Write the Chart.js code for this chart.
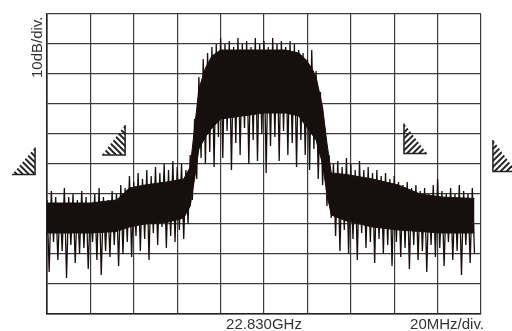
<!DOCTYPE html>
<html>
<head>
<meta charset="utf-8">
<script src="https://cdn.jsdelivr.net/npm/chart.js@4"></script>
<style>
  html, body { margin: 0; padding: 0; background: #fff; }
  #wrap { width: 512px; height: 331px; }
</style>
</head>
<body>
<div id="wrap"><canvas id="spectrum"></canvas></div>
<script>
// sweep: offset from centre in MHz, 1 MHz per sample
const sweepStart = -100;
const sweepStep = 1;

// trace level (dB) per sample, alternating peak / dip
const trace = [
  -62, -86, -59, -76, -61, -82, -63, -79, -58, -88,
  -61, -77, -60, -83, -62, -80, -59, -78, -61, -85,
  -63, -76, -60, -82, -58, -87, -61, -79, -62, -81,
  -59, -77, -60, -84,
  -57, -80, -58, -76, -54, -81, -56, -74, -53, -79,
  -55, -75, -52, -82, -54, -73, -51, -77, -53, -71,
  -50, -78, -52, -74, -49, -76, -51, -72, -50, -75,
  -52, -70,
  -47, -62, -35, -55, -21, -48, -15, -50,
  -13, -46, -11, -51, -10, -41, -8, -48, -10, -39,
  -9, -52, -11, -43, -8, -47, -10, -38, -9, -50,
  -11, -42, -8, -49, -10, -40, -9, -53, -11, -44,
  -8, -41, -10, -49, -9, -39, -11, -47, -9, -43,
  -10, -51, -12, -42,
  -13, -47, -15, -52, -12, -45, -19, -55, -26, -57,
  -38, -64, -47, -68,
  -50, -74, -49, -79, -51, -72, -48, -80, -50, -75,
  -52, -82, -49, -73, -52, -78, -51, -76, -53, -83,
  -52, -75, -54, -80, -53, -77, -55, -84, -54, -76,
  -56, -81, -57, -78, -56, -85, -58, -77, -57, -82,
  -59, -79, -58, -86, -60, -77, -57, -81, -55, -78,
  -59, -84, -60, -76, -58, -82, -60, -79, -57, -87,
  -59, -77, -60, -83, -58, -80
];

// solid band of the trace: top and bottom edge (dB) at these offsets (MHz)
const bandFreq = [-100, -80, -68, -62, -55, -45, -37, -34, -32, -30, -27, -24, -20, -10, 0, 10, 16, 19, 22, 24, 27, 29, 31, 38, 50, 62, 72, 82, 97];
const bandTop = [-63, -63, -62, -58, -57, -56, -55, -51, -38, -25, -18, -14, -12, -12, -12, -12, -13, -15, -18, -21, -31, -43, -53, -53.5, -55, -57, -60, -61, -61.5];
const bandBottom = [-73, -73, -72.5, -71, -70, -69.5, -68, -64, -55, -45, -41, -38, -35, -34, -33, -33, -34, -37, -40, -42, -50, -60, -67, -69, -71, -72, -72.5, -73, -73];

// screen scale
const freqMin = -100, freqMax = 100, freqDiv = 20;
const levelMin = -100, levelMax = 0, levelDiv = 10;

const centreLabel = '22.830GHz';
const spanLabel = '20MHz/div.';
const refLabel = '10dB/div.';

// hatched threshold marks: [offset MHz, top dB, bottom dB, which way they face]
const marks = [
  [-105.5, -44.5, -53.5, 'left'],
  [-64, -37, -47, 'left'],
  [64.5, -36.5, -46.5, 'right'],
  [105.5, -42, -52.5, 'right']
];

const tracePoints = trace.map((v, i) => ({ x: sweepStart + i * sweepStep, y: v }));
const topPoints = bandFreq.map((f, i) => ({ x: f, y: bandTop[i] }));
const bottomPoints = bandFreq.map((f, i) => ({ x: f, y: bandBottom[i] }));

const ink = '#170e0e';
const gridInk = '#3c3c3c';
const labelFont = '15px "Liberation Sans", Arial, sans-serif';

const screenLabels = {
  id: 'screenLabels',
  afterDraw(chart) {
    const { ctx, chartArea, scales } = chart;
    ctx.save();
    ctx.fillStyle = '#333';
    ctx.font = labelFont;
    ctx.textBaseline = 'alphabetic';
    ctx.textAlign = 'center';
    ctx.fillText(centreLabel, scales.x.getPixelForValue(0), chartArea.bottom + 15);
    ctx.textAlign = 'right';
    ctx.fillText(spanLabel, chartArea.right + 3, chartArea.bottom + 15);
    ctx.translate(chartArea.left - 5, chartArea.top + 64);
    ctx.rotate(-Math.PI / 2);
    ctx.textAlign = 'left';
    ctx.fillText(refLabel, 0, 0);
    ctx.restore();

    // hatched triangles
    marks.forEach(([f, top, bottom, side]) => {
      const w = 23;
      const yt = scales.y.getPixelForValue(top);
      const yb = scales.y.getPixelForValue(bottom);
      let xa, xb, xc;
      if (side === 'left') {
        xb = scales.x.getPixelForValue(f); xa = xb - w; xc = xb;
      } else {
        xa = scales.x.getPixelForValue(f); xb = xa + w; xc = xa;
      }
      ctx.save();
      ctx.beginPath();
      ctx.moveTo(xa, yb);
      ctx.lineTo(xb, yb);
      ctx.lineTo(xc, yt);
      ctx.closePath();
      ctx.clip();
      ctx.strokeStyle = '#222';
      ctx.lineWidth = 1.9;
      for (let k = -40; k < 60; k += 6) {
        ctx.beginPath();
        if (side === 'left') {
          ctx.moveTo(xa + k, yt);
          ctx.lineTo(xa + k + (yb - yt), yb);
        } else {
          ctx.moveTo(xb - k, yt);
          ctx.lineTo(xb - k - (yb - yt), yb);
        }
        ctx.stroke();
      }
      ctx.restore();
      ctx.save();
      ctx.strokeStyle = '#222';
      ctx.lineWidth = 1.5;
      ctx.beginPath();
      ctx.moveTo(xc, yt);
      ctx.lineTo(xc, yb);
      ctx.lineTo(side === 'left' ? xa : xb, yb);
      ctx.stroke();
      ctx.restore();
    });
  }
};

new Chart(document.getElementById('spectrum'), {
  type: 'line',
  data: {
    datasets: [
      {
        data: topPoints,
        borderColor: ink,
        borderWidth: 1,
        backgroundColor: ink,
        fill: '+1',
        pointRadius: 0,
        tension: 0
      },
      {
        data: bottomPoints,
        borderColor: ink,
        borderWidth: 1,
        pointRadius: 0,
        fill: false,
        tension: 0
      },
      {
        data: tracePoints,
        borderColor: ink,
        borderWidth: 1.3,
        pointRadius: 0,
        fill: false,
        tension: 0
      }
    ]
  },
  options: {
    responsive: true,
    maintainAspectRatio: false,
    animation: false,
    events: [],
    layout: { padding: { left: 47, right: 31, top: 14, bottom: 17 } },
    plugins: {
      legend: { display: false },
      tooltip: { enabled: false }
    },
    scales: {
      x: {
        type: 'linear',
        min: freqMin,
        max: freqMax,
        ticks: { display: false, stepSize: freqDiv },
        grid: { color: gridInk, lineWidth: 1.2, drawTicks: false },
        border: { color: '#222', width: 1.6 }
      },
      y: {
        min: levelMin,
        max: levelMax,
        ticks: { display: false, stepSize: levelDiv },
        grid: { color: gridInk, lineWidth: 1.2, drawTicks: false },
        border: { color: '#222', width: 1.6 }
      }
    }
  },
  plugins: [screenLabels]
});
</script>
</body>
</html>
